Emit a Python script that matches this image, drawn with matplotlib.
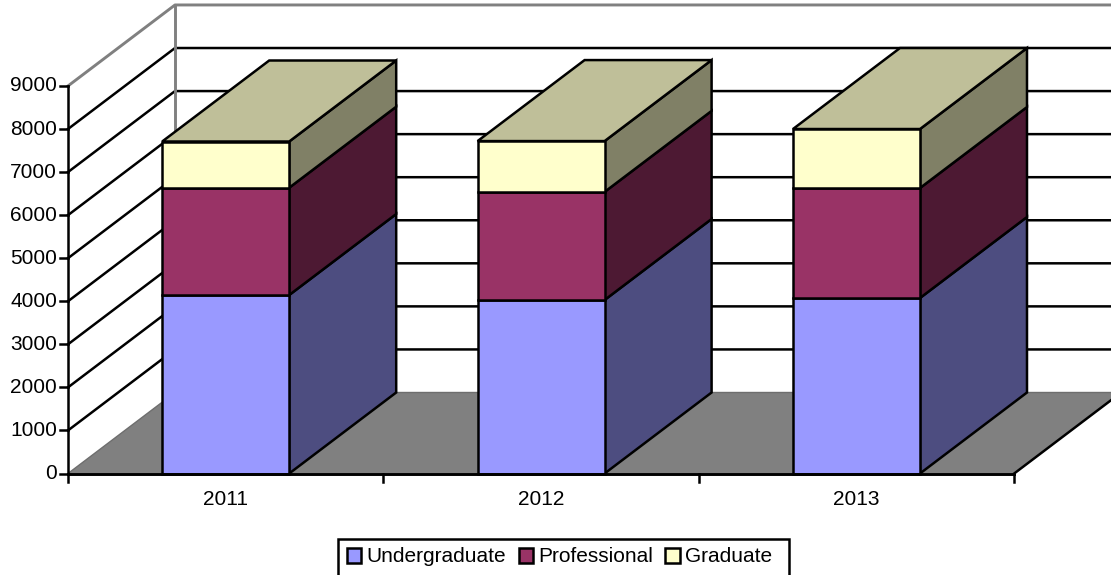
import matplotlib
matplotlib.use("Agg")
import matplotlib.pyplot as plt
from matplotlib.patches import Polygon, Patch, Rectangle

plt.rcParams["font.family"] = ["Liberation Sans", "DejaVu Sans"]

years = ["2011", "2012", "2013"]
undergraduate = [4145, 4030, 4076]
professional = [2492, 2510, 2554]
graduate = [1073, 1180, 1370]
series_names = ["Undergraduate", "Professional", "Graduate"]
y_ticks = [0, 1000, 2000, 3000, 4000, 5000, 6000, 7000, 8000, 9000]

front_colors = ["#9999FF", "#993366", "#FFFFCC"]
side_colors = ["#4D4D80", "#4D1933", "#808066"]
top_color = "#BFBF99"
floor_color = "#808080"

# pseudo 3d layout, in pixels
x0, y0 = 68.0, 473.5
cat_w = 315.4
px_per_unit = 43.06 / 1000
dx, dy = 107, -81
bar_w = 127
lw = 1.8


def sx(cat):
    return x0 + cat * cat_w


def sy(val):
    return y0 - val * px_per_unit


fig = plt.figure(figsize=(11.11, 5.75), dpi=100)
ax = fig.add_axes([0, 0, 1, 1])
ax.set_xlim(0, 1111)
ax.set_ylim(575, 0)
ax.axis("off")

x_end = sx(len(years))
top = y_ticks[-1]

# floor
ax.add_patch(Polygon([(x0, y0), (x_end, y0), (x_end + dx, y0 + dy), (x0 + dx, y0 + dy)],
                     closed=True, facecolor=floor_color, edgecolor="none", zorder=1))
ax.plot([x0, x0 + dx, x_end + dx], [y0, y0 + dy, y0 + dy], color="#6E6E6E", lw=1, zorder=1.5)
ax.plot([x_end, x_end + dx], [y0, y0 + dy], color="black", lw=lw, zorder=1.5)

# gridlines on side and back walls
for v in y_ticks[1:-1]:
    ax.plot([x0, x0 + dx, x_end + dx], [sy(v), sy(v) + dy, sy(v) + dy], color="black", lw=lw, zorder=1)
ax.plot([x0, x0 + dx, x_end + dx], [sy(top), sy(top) + dy, sy(top) + dy], color="#808080", lw=lw + 0.3, zorder=1.2)
ax.plot([x0 + dx, x0 + dx], [sy(0) + dy, sy(top) + dy], color="#808080", lw=lw + 0.3, zorder=1.2)

# stacked bars
stacks = [undergraduate, professional, graduate]
for i in range(len(years)):
    left = sx(i + 0.5) - bar_w / 2
    right = left + bar_w
    base = 0
    for k, vals in enumerate(stacks):
        upper = base + vals[i]
        ax.add_patch(Polygon([(right, sy(base)), (right + dx, sy(base) + dy),
                              (right + dx, sy(upper) + dy), (right, sy(upper))],
                             closed=True, facecolor=side_colors[k], edgecolor="black", lw=lw, zorder=3))
        ax.add_patch(Polygon([(left, sy(base)), (right, sy(base)), (right, sy(upper)), (left, sy(upper))],
                             closed=True, facecolor=front_colors[k], edgecolor="black", lw=lw, zorder=4))
        base = upper
    ax.add_patch(Polygon([(left, sy(base)), (right, sy(base)), (right + dx, sy(base) + dy), (left + dx, sy(base) + dy)],
                         closed=True, facecolor=top_color, edgecolor="black", lw=lw, zorder=3))

# axes and ticks
ax.plot([x0, x0], [sy(0), sy(top)], color="black", lw=lw, zorder=5)
ax.plot([x0, x_end], [y0, y0], color="black", lw=lw + 0.3, zorder=5)
for v in y_ticks:
    ax.plot([x0 - 8, x0], [sy(v), sy(v)], color="black", lw=lw, zorder=5)
    ax.text(x0 - 11, sy(v), str(v), ha="right", va="center", fontsize=15, color="black")
for i in range(len(years) + 1):
    ax.plot([sx(i), sx(i)], [y0, y0 + 8], color="black", lw=lw, zorder=5)
for i, year in enumerate(years):
    ax.text(sx(i + 0.5), 499.5, year, ha="center", va="center", fontsize=15, color="black")

# legend frame runs off the bottom of the picture
ax.add_patch(Rectangle((337.5, 539), 451.5, 50, facecolor="white", edgecolor="black", lw=lw, zorder=5))
handles = [Patch(facecolor=c, edgecolor="black", lw=lw) for c in front_colors]
leg = ax.legend(handles, series_names, loc="center", bbox_to_anchor=(559.5, 557), bbox_transform=ax.transData,
                ncol=3, fontsize=15, frameon=False,
                handlelength=0.7, handleheight=0.7, handletextpad=0.24, columnspacing=0.6,
                borderpad=0, borderaxespad=0)
leg.set_zorder(6)

fig.savefig("out.png", dpi=100)
